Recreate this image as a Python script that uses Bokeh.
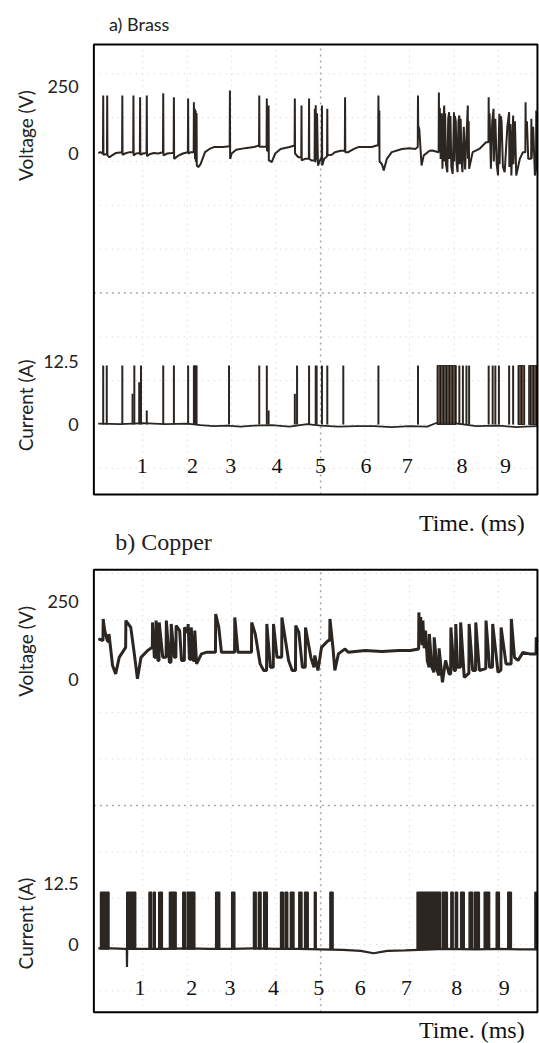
import math
from bokeh.plotting import figure
from bokeh.models import Range1d, Label
from bokeh.embed import file_html
from bokeh.resources import INLINE

# ---------------- data (time in ms, voltage in V, current in A) ----------------
time_labels = ["1", "2", "3", "4", "5", "6", "7", "8", "9"]
time_label_pos_a = [0.99, 2.12, 2.98, 4.02, 5.00, 6.02, 6.95, 8.18, 9.16]
time_label_pos_b = [0.94, 2.10, 2.96, 3.94, 4.96, 5.89, 6.93, 8.06, 9.13]
volt_ticks = [0, 250]
volt_tick_text = ["0", "250"]
curr_ticks = [0, 12.5]
curr_tick_text = ["0", "12.5"]

# a) Brass - voltage trace, (time ms, voltage V)
volt_a = [(0.00, 2), (0.05, 5), (0.105, 0), (0.11, 216), (0.115, -5), (0.17, -3), (0.195, -3), (0.20, 216),
          (0.205, -7), (0.25, -14), (0.30, -8), (0.40, 2), (0.535, 5), (0.54, 216), (0.545, -5), (0.60, 0),
          (0.70, 5), (0.785, 5), (0.79, 216), (0.795, -7), (0.85, 0), (0.935, 2), (0.94, 210), (0.945, -5),
          (1.00, 0), (1.085, 2), (1.09, 216), (1.095, -10), (1.15, -3), (1.25, 2), (1.35, 0), (1.455, 5),
          (1.46, 225), (1.465, -7), (1.55, 0), (1.65, 2), (1.695, 3), (1.70, 210), (1.705, -20), (1.78, -10),
          (1.90, 0), (2.015, 5), (2.02, 205), (2.025, 0), (2.08, 5), (2.145, 5), (2.15, 191), (2.155, 5),
          (2.165, 5), (2.17, 167), (2.175, -20), (2.185, -20), (2.19, 160), (2.195, -30), (2.205, -30),
          (2.21, 150), (2.215, -45), (2.25, -51), (2.30, -40), (2.40, 5), (2.50, 17), (2.60, 24), (2.80, 24),
          (2.955, 27), (2.96, 235), (2.965, -20), (3.00, 0), (3.10, 14), (3.30, 20), (3.50, 24), (3.615, 30),
          (3.62, 216), (3.625, 25), (3.70, 25), (3.785, 25), (3.79, 205), (3.795, 10), (3.825, 10), (3.83, 179),
          (3.835, -25), (3.90, -32), (3.98, 0), (4.10, 17), (4.30, 24), (4.415, 30), (4.42, 205), (4.425, 0),
          (4.50, -14), (4.565, -14), (4.57, 179), (4.575, -26), (4.65, -20), (4.735, -20), (4.74, 205),
          (4.745, -20), (4.80, -26), (4.865, -26), (4.87, 167), (4.875, -30), (4.885, -30), (4.89, 180),
          (4.90, -20), (4.915, -20), (4.92, 150), (4.94, -45), (5.00, -20), (5.025, -20), (5.03, 179),
          (5.035, -45), (5.08, -20), (5.145, -10), (5.15, 167), (5.155, -7), (5.25, -5), (5.32, 5), (5.45, 10),
          (5.545, 10), (5.55, 210), (5.555, 5), (5.62, 5), (5.75, 17), (5.85, 24), (6.00, 24), (6.15, 24),
          (6.26, 30), (6.295, 30), (6.30, 216), (6.305, 100), (6.32, 160), (6.325, -30), (6.38, -40),
          (6.42, -63), (6.49, -20), (6.60, 5), (6.83, 17), (7.00, 20), (7.13, 17), (7.185, 24), (7.19, 216),
          (7.195, 104), (7.22, 90), (7.27, -45), (7.32, -7), (7.45, 10), (7.51, 11), (7.655, 5), (7.66, 228),
          (7.665, 50), (7.68, 170), (7.70, -20), (7.72, 150), (7.74, -57), (7.76, 120), (7.78, 179),
          (7.785, -30), (7.80, 150), (7.82, -40), (7.85, -70), (7.87, 130), (7.89, 154), (7.895, -20),
          (7.92, 140), (7.94, -50), (7.97, -76), (8.00, 154), (8.005, -30), (8.02, 140), (8.04, 120),
          (8.06, -40), (8.08, -70), (8.10, 120), (8.12, 142), (8.125, -40), (8.15, 130), (8.17, -30),
          (8.19, -70), (8.22, 100), (8.25, -60), (8.31, 179), (8.315, -20), (8.33, 120), (8.34, -57),
          (8.42, 5), (8.57, 17), (8.72, 42), (8.775, 42), (8.78, 210), (8.785, 80), (8.80, 150), (8.83, -57),
          (8.86, 120), (8.89, 167), (8.895, -30), (8.93, 130), (8.96, -40), (8.99, -82), (9.02, 148),
          (9.025, -40), (9.05, 140), (9.07, 120), (9.10, -50), (9.14, -70), (9.20, 100), (9.24, 154),
          (9.245, -50), (9.27, 110), (9.29, -82), (9.33, 142), (9.335, -40), (9.37, 120), (9.40, -82),
          (9.48, -20), (9.55, 5), (9.605, 5), (9.61, 191), (9.615, 60), (9.64, 120), (9.67, -20),
          (9.735, -20), (9.74, 130), (9.745, -20), (9.78, 100), (9.82, -82), (9.845, -60), (9.85, 160),
          (9.87, 120)]

# a) Brass - current
curr_a_base = [(0.0, 0.2), (0.5, 0.1), (1.0, 0.3), (1.5, 0.1), (2.0, 0.2), (2.3, -0.1), (2.6, -0.3),
               (2.9, -0.2), (3.2, -0.4), (3.5, -0.2), (3.9, -0.1), (4.3, -0.4), (4.7, 0.1), (5.0, -0.2),
               (5.4, -0.4), (5.8, -0.3), (6.2, -0.3), (6.6, -0.5), (7.0, -0.3), (7.4, -0.4), (7.6, 0.3),
               (8.0, 0.3), (8.5, -0.3), (9.0, -0.2), (9.4, -0.5), (9.6, -0.4), (9.87, -0.3)]
pulse_a_t = [0.11, 0.19, 0.54, 0.77, 0.81, 0.92, 0.96, 1.09, 1.46, 1.70, 2.02, 2.15, 2.17, 2.19, 2.21,
             2.94, 3.62, 3.79, 3.83, 4.42, 4.47, 4.74, 4.89, 4.91, 5.03, 5.15, 5.51, 6.30, 7.19, 8.12,
             8.20, 8.28, 8.34, 8.78, 8.87, 8.93, 9.01, 9.24, 9.33]
pulse_a_top = [11.7, 11.7, 11.7, 6.1, 11.7, 8.4, 11.7, 2.8, 11.7, 11.7, 11.7, 11.7, 11.7, 11.7, 11.7,
               11.7, 11.7, 11.7, 2.8, 6.1, 11.7, 11.7, 11.7, 11.7, 11.7, 11.7, 11.7, 11.7, 11.7, 11.7,
               11.7, 11.7, 11.7, 11.7, 11.7, 11.7, 11.7, 11.7, 11.7]
burst_a_start = [7.62, 9.44, 9.68]
burst_a_end = [8.05, 9.59, 9.87]
burst_a_top = [11.7, 11.7, 11.7]

# b) Copper - voltage trace, (time ms, voltage V)
volt_b = [(0.00, 130), (0.105, 125), (0.11, 194), (0.14, 160), (0.20, 125), (0.235, 120), (0.24, 146),
          (0.32, 45), (0.39, 18), (0.47, 71), (0.615, 103), (0.62, 189), (0.73, 167), (0.81, 82), (0.88, 2),
          (0.96, 71), (1.11, 93), (1.215, 103), (1.22, 183), (1.26, 71), (1.295, 71), (1.30, 189), (1.34, 61),
          (1.365, 61), (1.37, 183), (1.45, 71), (1.525, 71), (1.53, 189), (1.60, 55), (1.635, 55), (1.64, 178),
          (1.71, 71), (1.745, 71), (1.75, 173), (1.83, 157), (1.87, 61), (1.935, 61), (1.94, 167),
          (2.015, 150), (2.02, 178), (2.05, 65), (2.085, 65), (2.09, 167), (2.13, 61), (2.165, 61), (2.17, 157),
          (2.21, 50), (2.32, 82), (2.43, 87), (2.635, 87), (2.64, 210), (2.71, 167), (2.77, 87), (3.065, 87),
          (3.07, 199), (3.14, 87), (3.445, 87), (3.45, 183), (3.53, 146), (3.64, 50), (3.72, 29), (3.785, 29),
          (3.79, 178), (3.87, 39), (3.935, 39), (3.94, 178), (4.02, 71), (4.125, 71), (4.13, 199), (4.28, 61),
          (4.36, 29), (4.435, 29), (4.44, 173), (4.51, 151), (4.59, 39), (4.655, 39), (4.66, 167), (4.78, 71),
          (4.85, 39), (4.87, 77), (4.94, 29), (5.02, 103), (5.17, 125), (5.205, 125), (5.21, 194), (5.28, 98),
          (5.32, 29), (5.40, 82), (5.55, 98), (5.62, 87), (6.00, 93), (6.38, 90), (6.76, 93), (7.02, 93),
          (7.205, 98), (7.21, 215), (7.23, 120), (7.25, 200), (7.28, 110), (7.30, 189), (7.33, 100),
          (7.36, 157), (7.40, 60), (7.44, 39), (7.445, 146), (7.50, 40), (7.55, 23), (7.555, 135), (7.62, 30),
          (7.66, 13), (7.665, 100), (7.74, -9), (7.81, 61), (7.89, 18), (7.925, 18), (7.93, 167), (8.00, 29),
          (8.035, 29), (8.04, 178), (8.08, 39), (8.145, 39), (8.15, 183), (8.23, 7), (8.335, 20), (8.34, 178),
          (8.42, 29), (8.485, 29), (8.49, 183), (8.57, 29), (8.715, 35), (8.72, 189), (8.80, 39), (8.865, 39),
          (8.87, 178), (8.99, 23), (9.055, 30), (9.06, 167), (9.17, 50), (9.285, 50), (9.29, 194), (9.36, 71),
          (9.44, 61), (9.55, 87), (9.70, 82), (9.845, 82), (9.85, 135), (9.87, 120)]

# b) Copper - current
curr_b_base = [(0.0, -0.8), (0.30, -0.8), (0.60, -0.9), (0.64, -0.9), (0.645, -4.6), (0.65, -0.9),
               (1.0, -0.9), (1.5, -0.9), (2.0, -0.8), (2.5, -0.9), (3.0, -0.9), (3.5, -0.8), (4.0, -0.9),
               (4.5, -0.9), (5.0, -1.0), (5.5, -1.1), (5.9, -1.3), (6.19, -1.8), (6.5, -1.3), (6.9, -1.2),
               (7.2, -1.1), (7.8, -0.9), (8.5, -1.0), (9.0, -0.9), (9.5, -1.0), (9.87, -1.0)]
block_b_start = [0.05, 0.64, 1.14, 1.24, 1.36, 1.60, 1.90, 2.00, 2.64, 3.00, 3.49, 3.60, 3.72, 4.10, 4.20,
                 4.32, 4.51, 4.64, 4.86, 5.21, 7.17, 7.74, 7.93, 8.03, 8.15, 8.34, 8.46, 8.68, 8.95, 9.21,
                 9.82]
block_b_end = [0.24, 0.84, 1.20, 1.28, 1.44, 1.75, 1.96, 2.17, 2.73, 3.07, 3.55, 3.66, 3.80, 4.16, 4.26,
               4.40, 4.58, 4.72, 4.90, 5.28, 7.70, 7.85, 7.98, 8.08, 8.23, 8.42, 8.57, 8.80, 9.02, 9.29,
               9.87]
block_b_top = [10.7] * len(block_b_start)

# ---------------- layout / styling ----------------
INK = "#2b2622"
TXT = "#222222"
SANS = "Lato"
SERIF = "Liberation Serif"
T0, T1 = -0.1, 9.877         # oscilloscope screen, ms
BOX_A = (-13.9, 75.4)        # screen a, in A
BOX_B = (-13.9, 76.8)        # screen b, in A

p = figure(width=539, height=1043,
           x_range=Range1d(-2.2, 9.923), y_range=Range1d(-3320.9, 570.9),
           x_axis_location=None, y_axis_location=None,
           output_backend="svg", toolbar_location=None,
           min_border=0, outline_line_color=None,
           background_fill_color="white", border_fill_color="white")
p.xgrid.visible = False
p.ygrid.visible = False
p.extra_y_ranges = {"ia": Range1d(-122.8, 84.13),
                    "vb": Range1d(-1166.7, 2176.3),
                    "ib": Range1d(-20.29, 193.44)}


def xs(pairs):
    return [a for a, _ in pairs]


def ys(pairs):
    return [b for _, b in pairs]


def graticule(rng, box, step, dark_k):
    lo, hi = box
    vt = [1, 2, 3, 4, 6, 7, 8, 9]
    p.segment(x0=vt, y0=[lo] * len(vt), x1=vt, y1=[hi] * len(vt), y_range_name=rng,
              line_color="#cdcdcd", line_dash="1 5", line_width=1)
    p.segment(x0=[5], y0=[lo], x1=[5], y1=[hi], y_range_name=rng,
              line_color="#a6a6a6", line_dash="2 4", line_width=1.5)
    ht = [step * k for k in range(-1, 9) if k != dark_k and lo < step * k < hi]
    p.segment(x0=[T0] * len(ht), y0=ht, x1=[T1] * len(ht), y1=ht, y_range_name=rng,
              line_color="#d2d2d2", line_dash="1 5", line_width=1)
    p.segment(x0=[T0], y0=[step * dark_k], x1=[T1], y1=[step * dark_k], y_range_name=rng,
              line_color="#a6a6a6", line_dash="2 4", line_width=1.5)


def texts(vrng, irng, v_title_y, i_title_y, xlab_pos, xlab_y, time_y):
    for t, s in zip(volt_ticks, volt_tick_text):
        p.add_layout(Label(x=-0.44, y=t, y_range_name=vrng, text=s, text_font=SANS,
                           text_font_size="18px", text_align="right", text_baseline="middle",
                           text_color=TXT))
    for t, s in zip(curr_ticks, curr_tick_text):
        p.add_layout(Label(x=-0.44, y=t, y_range_name=irng, text=s, text_font=SANS,
                           text_font_size="18px", text_align="right", text_baseline="middle",
                           text_color=TXT))
    p.add_layout(Label(x=-1.64, y=v_title_y, y_range_name=vrng, text="Voltage (V)", angle=math.pi / 2,
                       text_font=SANS, text_font_size="19px", text_align="center",
                       text_baseline="middle", text_color=TXT))
    p.add_layout(Label(x=-1.64, y=i_title_y, y_range_name=irng, text="Current (A)", angle=math.pi / 2,
                       text_font=SANS, text_font_size="19px", text_align="center",
                       text_baseline="middle", text_color=TXT))
    for pos, s in zip(xlab_pos, time_labels):
        p.add_layout(Label(x=pos, y=xlab_y, y_range_name=irng, text=s, text_font=SERIF,
                           text_font_size="22px", text_align="center", text_baseline="middle",
                           text_color="#111111"))
    p.add_layout(Label(x=8.40, y=time_y, y_range_name=irng, text="Time. (ms)", text_font=SERIF,
                       text_font_size="24px", text_align="center", text_baseline="middle",
                       text_color="#111111"))


# ---- panel a (Brass) ----
graticule("ia", BOX_A, 8.7, 3)
p.line(xs(volt_a), ys(volt_a), line_color=INK, line_width=2)
p.line(xs(curr_a_base), ys(curr_a_base), y_range_name="ia", line_color=INK, line_width=1.8)
p.segment(x0=pulse_a_t, y0=[0.0] * len(pulse_a_t), x1=pulse_a_t, y1=pulse_a_top,
          y_range_name="ia", line_color=INK, line_width=2)
p.quad(left=burst_a_start, right=burst_a_end, bottom=[0.0] * len(burst_a_start), top=burst_a_top,
       y_range_name="ia", fill_color="#4a3a2f", fill_alpha=0.9, hatch_pattern="|",
       hatch_color="#1e1a17", hatch_scale=3, hatch_weight=1.5, line_color=INK, line_width=1)
p.quad(left=[T0], right=[T1], bottom=[BOX_A[0]], top=[BOX_A[1]], y_range_name="ia",
       fill_color=None, line_color="black", line_width=2)
texts("default", "ia", 67, 3.8, time_label_pos_a, -8.3, -19.6)
p.add_layout(Label(x=0.24, y=485, text="a) Brass", text_font=SANS, text_font_size="18px",
                   text_align="left", text_baseline="middle", text_color=TXT))

# ---- panel b (Copper) ----
graticule("ib", BOX_B, 9.5, 3)
p.line(xs(volt_b), ys(volt_b), y_range_name="vb", line_color=INK, line_width=3)
p.line(xs(curr_b_base), ys(curr_b_base), y_range_name="ib", line_color=INK, line_width=2.2)
p.quad(left=block_b_start, right=block_b_end, bottom=[-0.9] * len(block_b_start), top=block_b_top,
       y_range_name="ib", fill_color=INK, line_color=INK, line_width=1.5)
p.quad(left=[T0], right=[T1], bottom=[BOX_B[0]], top=[BOX_B[1]], y_range_name="ib",
       fill_color=None, line_color="black", line_width=2)
texts("vb", "ib", 90, 4.3, time_label_pos_b, -9.0, -17.6)
p.add_layout(Label(x=0.38, y=442, y_range_name="vb", text="b) Copper", text_font=SERIF,
                   text_font_size="24px", text_align="left", text_baseline="middle", text_color=TXT))

open("out.html", "w").write(file_html(p, INLINE))
